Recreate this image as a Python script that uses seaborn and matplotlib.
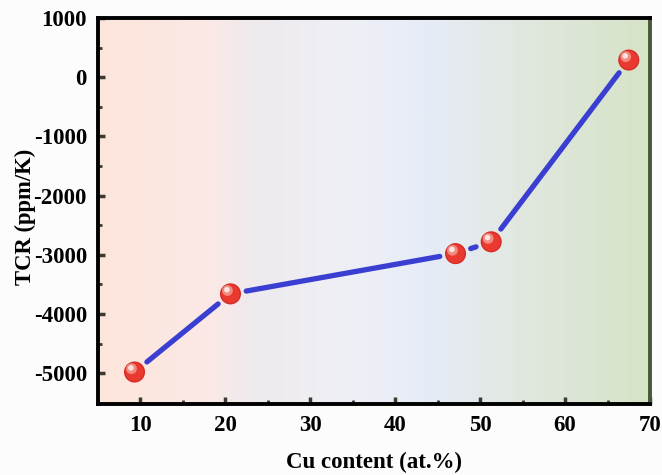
import numpy as np
import matplotlib
matplotlib.use("Agg")
import matplotlib.pyplot as plt
import matplotlib.transforms as mtransforms
from matplotlib.colors import LinearSegmentedColormap
from matplotlib.ticker import MultipleLocator
import seaborn as sns
import pandas as pd

# Cu content (at.%) and temperature coefficient of resistance (ppm/K)
cu_content = [9.3, 20.6, 47.1, 51.3, 67.5]
tcr_values = [-4980, -3660, -2980, -2780, 290]
x_ticks = [10, 20, 30, 40, 50, 60, 70]
y_ticks = [-5000, -4000, -3000, -2000, -1000, 0, 1000]

df = pd.DataFrame({"cu": cu_content, "tcr": tcr_values})

sns.set_theme(style="white")
plt.rcParams["font.family"] = ["Liberation Serif", "DejaVu Serif"]
plt.rcParams["font.weight"] = "bold"
plt.rcParams["axes.unicode_minus"] = False
plt.rcParams["text.color"] = "black"
plt.rcParams["axes.labelcolor"] = "black"
plt.rcParams["xtick.labelcolor"] = "black"
plt.rcParams["ytick.labelcolor"] = "black"

fig = plt.figure(figsize=(6.62, 4.75), dpi=100, facecolor="#fcfcfc")
ax = fig.add_axes([98 / 662, 1 - 404 / 475, (650 - 98) / 662, (404 - 18) / 475])

ax.set_xlim(5, 70)
ax.set_ylim(-5520, 1000)

# horizontal gradient background: peach -> lavender -> pale green
bg = LinearSegmentedColormap.from_list(
    "bg", [(0.0, "#fde5da"), (0.2, "#fbe9e6"), (0.28, "#eeeaee"),
           (0.45, "#eff0f6"), (0.6, "#e6ecf7"), (0.75, "#e2e8e2"),
           (1.0, "#d5e3c6")])
grad = np.linspace(0, 1, 512).reshape(1, -1)
ax.imshow(grad, cmap=bg, aspect="auto", extent=[0, 1, 0, 1],
          transform=ax.transAxes, zorder=0)

# connecting line segments with small gaps at the markers
for i in range(len(cu_content) - 1):
    ax.annotate("", xy=(cu_content[i + 1], tcr_values[i + 1]),
                xytext=(cu_content[i], tcr_values[i]),
                arrowprops=dict(arrowstyle="-", color="#3a3fd2", lw=3.8,
                                shrinkA=11.5, shrinkB=11.5, capstyle="round"),
                zorder=2)

# shaded sphere markers
sns.scatterplot(data=df, x="cu", y="tcr", s=230, color="#d42c26",
                edgecolor="none", ax=ax, zorder=3, legend=False)
sns.scatterplot(data=df, x="cu", y="tcr", s=175, color="#ea3a30",
                edgecolor="none", ax=ax, zorder=4, legend=False)
hl1 = mtransforms.offset_copy(ax.transData, fig=fig, x=-2.2, y=2.4, units="points")
hl2 = mtransforms.offset_copy(ax.transData, fig=fig, x=-2.6, y=3.0, units="points")
ax.scatter(cu_content, tcr_values, s=60, color="#f28a80", edgecolor="none",
           transform=hl1, zorder=5)
ax.scatter(cu_content, tcr_values, s=16, color="#fde4e0", edgecolor="none",
           transform=hl2, zorder=6)

ax.set_xticks(x_ticks)
ax.set_yticks(y_ticks)
ax.xaxis.set_minor_locator(MultipleLocator(5))
ax.yaxis.set_minor_locator(MultipleLocator(500))
ax.tick_params(which="major", direction="in", length=5, width=2.5,
               color="#3a3a30", labelsize=16.5, pad=8, labelcolor="black")
ax.tick_params(which="minor", direction="in", length=3, width=2,
               color="#3a3a30")
ax.tick_params(axis="x", which="both", bottom=True, top=False)
ax.tick_params(axis="y", which="both", left=True, right=False)
for lab in ax.get_xticklabels() + ax.get_yticklabels():
    lab.set_fontweight("bold")

for side in ["left", "bottom", "top"]:
    ax.spines[side].set_color("black")
    ax.spines[side].set_linewidth(2.8)
ax.spines["right"].set_color("#4a5638")
ax.spines["right"].set_linewidth(2.8)

ax.set_xlabel("Cu content (at.%)", fontsize=16.5, fontweight="bold",
              labelpad=11, color="black")
ax.set_ylabel("TCR (ppm/K)", fontsize=16.3, fontweight="bold", color="black")
ax.yaxis.set_label_coords(-0.112, 0.485)

fig.savefig("out.png", dpi=100, facecolor=fig.get_facecolor())
